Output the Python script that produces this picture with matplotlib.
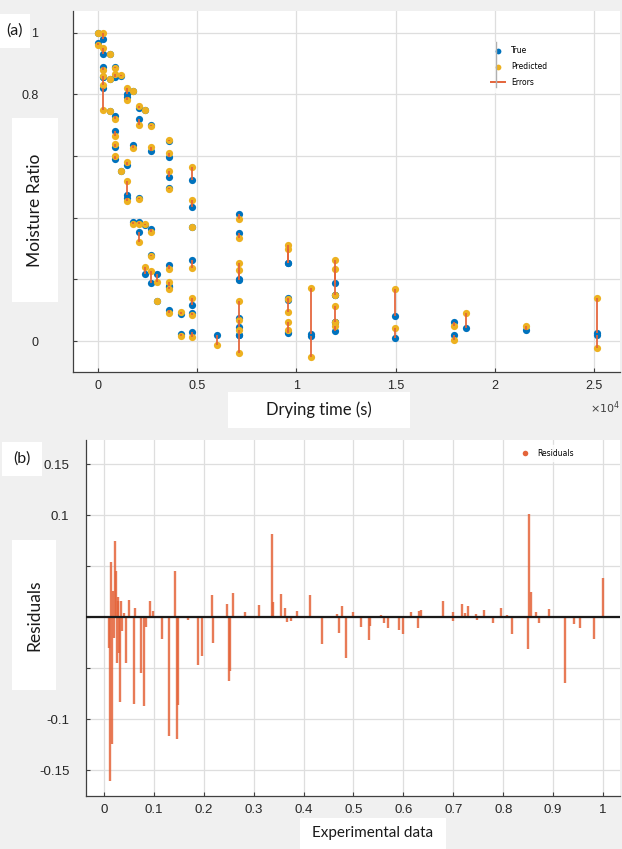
# -*- coding: utf-8 -*-
"""
Two stacked panels: (a) true vs predicted moisture ratio against drying time,
with the error between them drawn as a vertical line, and (b) the residuals
of the model over the normalised experimental data.
"""
import numpy as np
from matplotlib import pyplot as plt
from matplotlib.lines import Line2D
from matplotlib.patches import Rectangle

##############################################################################
# DATA
##############################################################################

# Panel (a): drying time (s), true and predicted moisture ratio
drying_time = [0, 0,
               250, 250, 250, 250, 250, 250,
               590, 590, 590,
               870, 870, 870, 870, 870, 870,
               1170, 1170,
               1480, 1480, 1480, 1480, 1480,
               1760, 1760, 1760,
               2050, 2050, 2050, 2050, 2050,
               2350, 2350, 2350,
               2650, 2650, 2650, 2650, 2650,
               2970, 2970,
               3560, 3560, 3560, 3560, 3560, 3560, 3560, 3560,
               4170, 4170,
               4760, 4760, 4760, 4760, 4760, 4760, 4760,
               5980,
               7100, 7100, 7100, 7100, 7100, 7100, 7100, 7100,
               9560, 9560, 9560, 9560, 9560, 9560,
               10750, 10750,
               11960, 11960, 11960, 11960, 11960, 11960,
               14950, 14950,
               17960, 17960,
               18550,
               21560,
               25130, 25130]
mr_true = [1.00, 0.965,
           0.98, 0.93, 0.89, 0.855, 0.855, 0.82,
           0.93, 0.85, 0.745,
           0.89, 0.855, 0.73, 0.68, 0.63, 0.59,
           0.86, 0.552,
           0.80, 0.79, 0.57, 0.475, 0.465,
           0.81, 0.635, 0.385,
           0.757, 0.72, 0.465, 0.387, 0.355,
           0.75, 0.377, 0.216,
           0.70, 0.615, 0.365, 0.28, 0.19,
           0.216, 0.13,
           0.65, 0.598, 0.533, 0.496, 0.247, 0.18, 0.176, 0.10,
           0.087, 0.023,
           0.523, 0.436, 0.371, 0.263, 0.117, 0.09, 0.03,
           0.02,
           0.413, 0.352, 0.198, 0.20, 0.075, 0.045, 0.02, 0.02,
           0.252, 0.252, 0.14, 0.133, 0.025, 0.03,
           0.023, 0.018,
           0.19, 0.15, 0.15, 0.063, 0.032, 0.063,
           0.081, 0.01,
           0.063, 0.02,
           0.044,
           0.036,
           0.025, 0.02]
mr_pred = [1.00, 0.96,
           1.00, 0.95, 0.88, 0.86, 0.83, 0.75,
           0.93, 0.85, 0.745,
           0.885, 0.865, 0.72, 0.665, 0.64, 0.60,
           0.862, 0.55,
           0.82, 0.78, 0.58, 0.52, 0.455,
           0.81, 0.625, 0.38,
           0.761, 0.70, 0.462, 0.38, 0.322,
           0.75, 0.379, 0.241,
           0.698, 0.63, 0.355, 0.276, 0.228,
           0.193, 0.131,
           0.652, 0.61, 0.55, 0.494, 0.235, 0.193, 0.169, 0.092,
           0.095, 0.016,
           0.566, 0.458, 0.371, 0.236, 0.139, 0.085, 0.014,
           -0.013,
           0.395, 0.335, 0.252, 0.232, 0.13, 0.07, 0.035, -0.04,
           0.312, 0.298, 0.093, 0.136, 0.063, 0.036,
           0.171, -0.053,
           0.263, 0.233, 0.15, 0.115, 0.05, 0.063,
           0.168, 0.041,
           0.05, 0.005,
           0.09,
           0.05,
           0.141, -0.022]

# Panel (b): normalised experimental data and residuals
exp_data = [0.011, 0.013, 0.014, 0.017, 0.018, 0.021, 0.023, 0.025, 0.026,
            0.028, 0.029, 0.030, 0.033, 0.035, 0.036, 0.041, 0.045, 0.051,
            0.061, 0.063, 0.075, 0.081, 0.085, 0.093, 0.099, 0.117, 0.130,
            0.142, 0.146, 0.149, 0.169, 0.189, 0.197, 0.217, 0.218, 0.246,
            0.251, 0.253, 0.259, 0.283, 0.311, 0.337, 0.339, 0.355, 0.363,
            0.367, 0.374, 0.380, 0.386, 0.413, 0.436, 0.466, 0.470, 0.477,
            0.485, 0.500, 0.516, 0.532, 0.534, 0.555, 0.562, 0.570, 0.591,
            0.599, 0.615, 0.630, 0.632, 0.635, 0.653, 0.679, 0.699, 0.700,
            0.717, 0.723, 0.730, 0.745, 0.748, 0.762, 0.779, 0.795, 0.807,
            0.817, 0.849, 0.852, 0.855, 0.865, 0.872, 0.892, 0.924, 0.942,
            0.953, 0.982, 0.999]
residuals = [-0.030, -0.160, 0.054, -0.124, 0.026, -0.020, 0.075, 0.046,
             -0.045, 0.020, 0.016, -0.035, -0.083, 0.016, -0.013, 0.004,
             -0.045, 0.017, -0.085, 0.009, -0.054, -0.087, -0.009, 0.016,
             0.006, -0.021, -0.116, 0.046, -0.119, -0.086, -0.002, -0.047,
             -0.038, 0.022, -0.025, 0.013, -0.062, -0.052, 0.024, 0.005,
             0.012, 0.082, 0.015, 0.023, 0.009, -0.004, -0.003, 0.001,
             0.006, 0.022, -0.026, 0.003, -0.015, 0.011, -0.040, 0.005,
             -0.009, -0.022, -0.008, 0.002, -0.005, -0.010, -0.012, -0.016,
             0.005, -0.010, 0.006, 0.007, 0.001, 0.016, -0.003, 0.005,
             0.013, 0.004, 0.011, 0.003, -0.002, 0.007, -0.005, 0.009,
             0.002, -0.016, -0.031, 0.101, 0.025, 0.005, -0.005, 0.008,
             -0.064, -0.006, -0.010, -0.021, 0.039]

# tick labels hidden under the pasted axis-title boxes are left blank
top_xticks = [0, 5000, 10000, 15000, 20000, 25000]
top_xticklabels = ['0', '0.5', '1', '1.5', '2', '2.5']
top_yticks = [0, 0.2, 0.4, 0.6, 0.8, 1]
top_yticklabels = ['0', '', '', '', '0.8', '1']
bot_xticks = [0, 0.1, 0.2, 0.3, 0.4, 0.5, 0.6, 0.7, 0.8, 0.9, 1]
bot_xticklabels = ['0', '0.1', '0.2', '0.3', '0.4', '0.5', '0.6', '0.7',
                   '0.8', '0.9', '1']
bot_yticks = [-0.15, -0.1, -0.05, 0, 0.05, 0.1, 0.15]
bot_yticklabels = ['-0.15', '-0.1', '', '', '', '0.1', '0.15']

##############################################################################
# STYLE
##############################################################################

W, H = 622, 849
c_true = '#0072BD'
c_pred = '#EDB120'
c_err = '#E4643A'
c_grid = '#dedede'
c_axis = '#404040'
label_font = ['Lato', 'DejaVu Sans']
tick_font = ['Liberation Sans', 'DejaVu Sans']


def fig_box(x0, y0, x1, y1):
    """Pixel box (top-left origin) -> figure fraction rect."""
    return [x0 / W, 1 - y1 / H, (x1 - x0) / W, (y1 - y0) / H]


def style_axes(ax):
    for side in ['top', 'right']:
        ax.spines[side].set_visible(False)
    for side in ['left', 'bottom']:
        ax.spines[side].set_color(c_axis)
        ax.spines[side].set_linewidth(0.9)
    ax.grid(True, color=c_grid, lw=0.9)
    ax.set_axisbelow(True)
    ax.tick_params(direction='in', length=3, color=c_axis, labelcolor='#262626')
    ax.set_facecolor('white')


##############################################################################
# CODE
##############################################################################

fig = plt.figure(figsize=(W / 100, H / 100), dpi=100, facecolor='#f0f0f0')

# ---------------- panel (a) ----------------
ax1 = fig.add_axes(fig_box(73, 11, 620, 372))
style_axes(ax1)
t = np.array(drying_time)
yt = np.array(mr_true)
yp = np.array(mr_pred)
ax1.plot(t, yt, 'o', color=c_true, ms=5.2, mec='none', label='True')
ax1.plot(t, yp, 'o', color=c_pred, ms=5.2, mec='none', label='Predicted')
ax1.vlines(t, yt, yp, color=c_err, lw=1.4, alpha=0.9)
ax1.plot([], [], '-', color=c_err, lw=1.4, label='Errors')
ax1.set_xlim(-1260, 26300)
ax1.set_ylim(-0.1, 1.07)
ax1.set_xticks(top_xticks)
ax1.set_xticklabels(top_xticklabels, fontsize=9, family=tick_font)
ax1.set_yticks(top_yticks)
ax1.set_yticklabels(top_yticklabels, fontsize=9, family=tick_font)
ax1.tick_params(axis='x', pad=6)
ax1.tick_params(axis='y', pad=25)
leg1 = ax1.legend(loc='upper left', bbox_to_anchor=(483 / W, 1 - 38 / H),
                  bbox_transform=fig.transFigure, fontsize=5.5, frameon=True,
                  fancybox=False, handlelength=1.8, markerscale=0.8,
                  borderpad=0.6, labelspacing=0.9)
leg1.get_frame().set_edgecolor('white')
leg1.get_frame().set_facecolor('white')
fig.add_artist(Line2D([496 / W, 496 / W], [1 - 42 / H, 1 - 87 / H],
                      color='#b0b0b0', lw=1.0))
fig.text(590 / W, 1 - 408 / H, r'$\times10^{4}$', fontsize=8,
         color='#404040', ha='left', va='center')

# ---------------- panel (b) ----------------
ax2 = fig.add_axes(fig_box(86, 440, 620, 796))
style_axes(ax2)
ax2.axhline(0, color='#1a1a1a', lw=1.6, zorder=3)
ax2.vlines(exp_data, 0, residuals, color=c_err, lw=1.7, alpha=0.85, zorder=2)
ax2.plot([], [], 'o', color=c_err, ms=4, mec='none', label='Residuals')
ax2.set_xlim(-0.036, 1.034)
ax2.set_ylim(-0.175, 0.174)
ax2.set_xticks(bot_xticks)
ax2.set_xticklabels(bot_xticklabels, fontsize=9.5, family=tick_font)
ax2.set_yticks(bot_yticks)
ax2.set_yticklabels(bot_yticklabels, fontsize=9.5, family=tick_font)
ax2.tick_params(axis='x', pad=6)
ax2.tick_params(axis='y', pad=12)
leg2 = ax2.legend(loc='upper left', bbox_to_anchor=(512 / W, 1 - 441 / H),
                  bbox_transform=fig.transFigure, fontsize=5.5, frameon=True,
                  fancybox=False, handlelength=1.5, borderpad=0.5)
leg2.get_frame().set_edgecolor('white')
leg2.get_frame().set_facecolor('white')

# ---------------- pasted white label boxes ----------------
boxes = [
    # (x0, y0, x1, y1, text, rotation, fontsize)
    (0, 14, 30, 48, '(a)', 0, 11.5),
    (12, 118, 58, 302, 'Moisture Ratio', 90, 12.5),
    (228, 392, 410, 428, 'Drying time (s)', 0, 12),
    (2, 442, 42, 476, '(b)', 0, 11.5),
    (12, 540, 56, 690, 'Residuals', 90, 12.5),
    (300, 818, 446, 849, 'Experimental data', 0, 11),
]
for x0, y0, x1, y1, txt, rot, fs in boxes:
    fig.add_artist(Rectangle((x0 / W, 1 - y1 / H), (x1 - x0) / W,
                             (y1 - y0) / H, transform=fig.transFigure,
                             facecolor='white', edgecolor='none', zorder=5))
    fig.text((x0 + x1) / 2 / W, 1 - (y0 + y1) / 2 / H, txt, rotation=rot,
             ha='center', va='center', fontsize=fs, family=label_font,
             color='#1a1a1a', zorder=6)

fig.savefig('out.png', dpi=100, facecolor=fig.get_facecolor())
